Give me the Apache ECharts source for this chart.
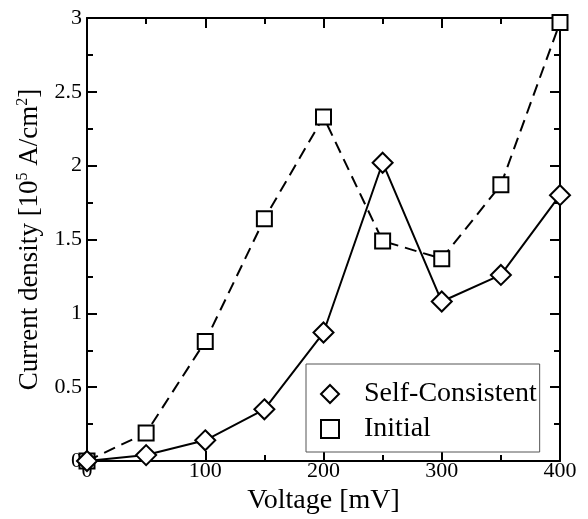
<!DOCTYPE html>
<html>
<head>
<meta charset="utf-8">
<script src="https://cdn.jsdelivr.net/npm/echarts@6/dist/echarts.min.js"></script>
<style>
  html, body { margin: 0; padding: 0; background: #fff; }
  #chart { width: 588px; height: 519px; }
</style>
</head>
<body>
<div id="chart"></div>
<script>
// values
const voltage = [0, 50, 100, 150, 200, 250, 300, 350, 400];
const selfConsistent = [0, 0.04, 0.14, 0.35, 0.87, 2.02, 1.08, 1.26, 1.80];
const initial = [0, 0.19, 0.81, 1.64, 2.33, 1.49, 1.37, 1.87, 2.97];

const font = 'Liberation Serif';

const pairs = (ys) => voltage.map((v, i) => [v, ys[i]]);

const baseAxis = {
  axisLine: { show: true, onZero: false, lineStyle: { color: '#000', width: 2 } },
  axisTick: { show: true, inside: true, length: 10, lineStyle: { color: '#000', width: 2 } },
  minorTick: { show: true, splitNumber: 2, length: 6, lineStyle: { color: '#000', width: 2 } },
  splitLine: { show: false },
  minorSplitLine: { show: false }
};

const chart = echarts.init(document.getElementById('chart'));
chart.setOption({
  animation: false,
  textStyle: { fontFamily: font },
  grid: { left: 87, right: 28, top: 18, bottom: 58, outerBoundsMode: 'none', containLabel: false },
  legend: {
    left: 306,
    top: 364,
    orient: 'vertical',
    padding: [16, 3, 9, 14],
    itemGap: 7,
    itemWidth: 18,
    itemHeight: 18,
    borderColor: '#555',
    borderWidth: 1,
    backgroundColor: '#fff',
    textStyle: { fontFamily: font, fontSize: 28, color: '#000', padding: [0, 0, 0, 20] },
    data: [
      { name: 'Self-Consistent', icon: 'diamond', itemStyle: { color: '#fff', borderColor: '#000', borderWidth: 2 } },
      { name: 'Initial', icon: 'rect', itemStyle: { color: '#fff', borderColor: '#000', borderWidth: 2 } }
    ]
  },
  xAxis: [
    Object.assign({}, baseAxis, {
      type: 'value', min: 0, max: 400, interval: 100,
      name: 'Voltage [mV]', nameLocation: 'middle', nameGap: 26,
      nameTextStyle: { fontFamily: font, fontSize: 28, color: '#000' },
      axisLabel: { color: '#000', fontSize: 22, fontFamily: font, margin: -1 }
    }),
    Object.assign({}, baseAxis, {
      type: 'value', min: 0, max: 400, interval: 100, position: 'top',
      axisLabel: { show: false }
    })
  ],
  yAxis: [
    Object.assign({}, baseAxis, {
      type: 'value', min: 0, max: 3, interval: 0.5,
      name: '{t|Current density [10}{s|5}{t| A/cm}{s|2}{t|]}',
      nameLocation: 'middle', nameGap: 40, nameRotate: 90,
      nameTextStyle: {
        fontFamily: font, fontSize: 27, color: '#000',
        rich: {
          t: { fontFamily: font, fontSize: 27, color: '#000' },
          s: { fontFamily: font, fontSize: 16, color: '#000', padding: [0, 0, 14, 0] }
        }
      },
      axisLabel: { color: '#000', fontSize: 22, fontFamily: font, margin: 5 }
    }),
    Object.assign({}, baseAxis, {
      type: 'value', min: 0, max: 3, interval: 0.5, position: 'right',
      axisLabel: { show: false }
    })
  ],
  series: [
    {
      name: 'Self-Consistent',
      type: 'line',
      data: pairs(selfConsistent),
      symbol: 'diamond',
      symbolSize: 20,
      lineStyle: { color: '#000', width: 2 },
      itemStyle: { color: '#fff', borderColor: '#000', borderWidth: 2 },
      z: 3
    },
    {
      name: 'Initial',
      type: 'line',
      data: pairs(initial),
      symbol: 'rect',
      symbolSize: 15,
      lineStyle: { color: '#000', width: 2, type: [12, 7] },
      itemStyle: { color: '#fff', borderColor: '#000', borderWidth: 2 },
      z: 2
    }
  ]
});
</script>
</body>
</html>
